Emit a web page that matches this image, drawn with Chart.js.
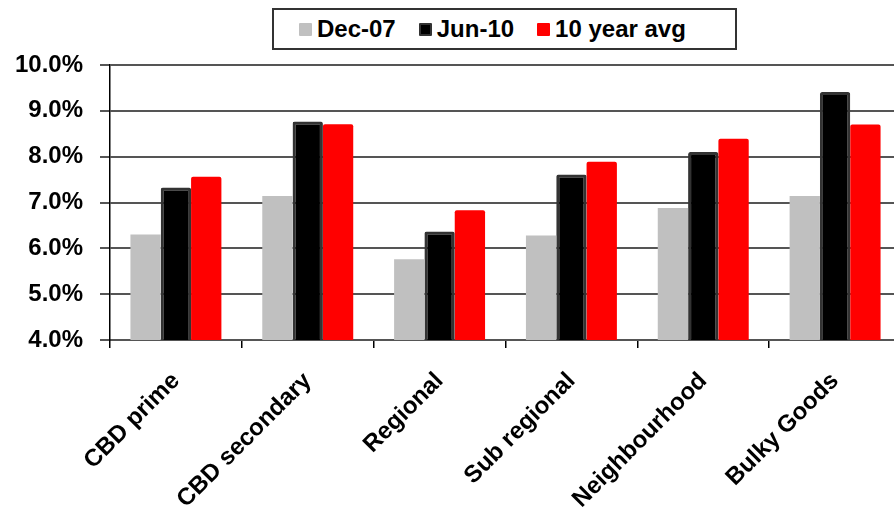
<!DOCTYPE html>
<html>
<head>
<meta charset="utf-8">
<script src="https://cdn.jsdelivr.net/npm/chart.js@4/dist/chart.umd.min.js"></script>
<style>
  html, body { margin: 0; padding: 0; background: #fff; }
  #wrap { position: relative; width: 894px; height: 509px; overflow: hidden; }
  #wrap canvas { position: absolute; left: 0; top: 0; }
  #legend {
    position: absolute; left: 272px; top: 8px; width: 436px; height: 38px;
    border: 2px solid #333; background: #fff;
    display: flex; align-items: center; padding-left: 25px; box-sizing: content-box;
    font: bold 24px "Liberation Sans", Arial, sans-serif; color: #000;
  }
  #legend .item { display: flex; align-items: center; margin-right: 23px; }
  #legend .sw { width: 13px; height: 13px; margin-right: 5px; box-sizing: border-box; border-radius: 1px; }
</style>
</head>
<body>
<div id="wrap">
  <canvas id="c" width="902" height="509"></canvas>
  <div id="legend"></div>
</div>
<script>
// Retail property yields by sector
const categories = ['CBD prime', 'CBD secondary', 'Regional', 'Sub regional', 'Neighbourhood', 'Bulky Goods'];
const dec07 = [6.30, 7.14, 5.76, 6.28, 6.88, 7.14];
const jun10 = [7.33, 8.77, 6.37, 7.61, 8.10, 9.41];
const tenYearAvg = [7.56, 8.71, 6.83, 7.89, 8.39, 8.70];
const seriesNames = ['Dec-07', 'Jun-10', '10 year avg'];
const yTicks = [4, 5, 6, 7, 8, 9, 10];

const FONT = '"Liberation Sans", Arial, sans-serif';

const chart = new Chart(document.getElementById('c'), {
  type: 'bar',
  data: {
    labels: categories,
    datasets: [
      { label: seriesNames[0], data: dec07, backgroundColor: '#c0c0c0', borderWidth: 0 },
      { label: seriesNames[1], data: jun10, backgroundColor: '#000000', borderColor: '#333333',
        borderWidth: 3, borderSkipped: false, borderRadius: 2 },
      { label: seriesNames[2], data: tenYearAvg, backgroundColor: '#ff0000', borderWidth: 0, borderRadius: 2 }
    ]
  },
  options: {
    responsive: false,
    animation: false,
    devicePixelRatio: 1,
    layout: { padding: { top: 65, right: 1, bottom: 0, left: 0 } },
    datasets: { bar: { categoryPercentage: 0.69, barPercentage: 1.0 } },
    plugins: { legend: { display: false }, tooltip: { enabled: false } },
    scales: {
      x: {
        afterFit: s => { s.height = 169; },
        grid: { offset: true, drawOnChartArea: false, drawTicks: true, tickLength: 8, color: '#000', lineWidth: 1.5 },
        border: { display: true, color: '#555', width: 2 },
        ticks: {
          minRotation: 45, maxRotation: 45, autoSkip: false, padding: 19,
          color: '#000', font: { family: FONT, size: 24, weight: 'bold' }
        }
      },
      y: {
        min: yTicks[0], max: yTicks[yTicks.length - 1],
        afterFit: s => { s.width = 110; },
        afterBuildTicks: s => { s.ticks = yTicks.map(v => ({ value: v })); },
        grid: { color: '#555', lineWidth: 2, drawTicks: true, tickLength: 10 },
        border: { display: true, color: '#000', width: 1.5 },
        ticks: {
          padding: 17, color: '#000',
          font: { family: FONT, size: 24, weight: 'bold' },
          callback: v => v.toFixed(1) + '%'
        }
      }
    }
  }
});

// Legend built from the chart's datasets
const legend = document.getElementById('legend');
chart.data.datasets.forEach(ds => {
  const item = document.createElement('div');
  item.className = 'item';
  const sw = document.createElement('span');
  sw.className = 'sw';
  sw.style.background = ds.backgroundColor;
  if (ds.borderWidth) sw.style.border = '2px solid ' + ds.borderColor;
  const txt = document.createElement('span');
  txt.textContent = ds.label;
  item.appendChild(sw);
  item.appendChild(txt);
  legend.appendChild(item);
});
</script>
</body>
</html>
